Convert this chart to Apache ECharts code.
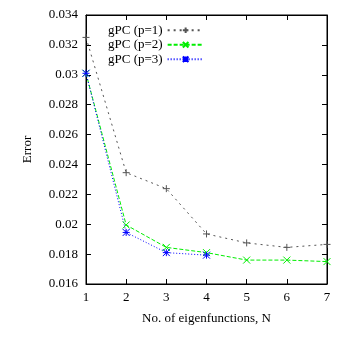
<!DOCTYPE html>
<html>
<head>
<meta charset="utf-8">
<script src="https://cdn.jsdelivr.net/npm/echarts@6/dist/echarts.min.js"></script>
<style>
  html, body {margin: 0; padding: 0; background: #fff;}
  #chart {width: 346px; height: 339px;}
</style>
</head>
<body>
<div id="chart"></div>
<script>
// number of eigenfunctions
const nValues = [1, 2, 3, 4, 5, 6, 7];
const errP1 = [0.0325, 0.02345, 0.02238, 0.01935, 0.01875, 0.01845, 0.01865];
const errP2 = [0.0301, 0.01995, 0.01845, 0.0181, 0.0176, 0.0176, 0.0175];
const errP3 = [0.0301, 0.01945, 0.0181, 0.01793];
const seriesNames = ['gPC (p=1)', 'gPC (p=2)', 'gPC (p=3)'];

const FONT = 'Liberation Serif';

// gnuplot-like point shapes
const plusPath = 'path://M0,5L10,5M5,0L5,10';
const crossPath = 'path://M0,0L10,10M10,0L0,10';
const starPath = 'path://M0,0L10,10M10,0L0,10M5,0L5,10M0,5L10,5';

const pairs = (ys) => ys.map((y, i) => [nValues[i], y]);

const mkSeries = (name, ys, color, dash, symbol) => ({
  name: name,
  type: 'line',
  data: pairs(ys),
  symbol: symbol,
  symbolSize: 7,
  showSymbol: true,
  lineStyle: {color: color, width: 1, type: dash},
  itemStyle: {color: 'rgba(0,0,0,0)', borderColor: color, borderWidth: 1},
  emphasis: {disabled: true},
  animation: false
});

const chart = echarts.init(document.getElementById('chart'));

const tickStyle = {show: true, inside: true, length: 5, lineStyle: {color: '#000'}};

chart.setOption({
  backgroundColor: '#fff',
  animation: false,
  grid: {left: 86, right: 19, top: 15, bottom: 55, show: true, borderColor: '#000', borderWidth: 1},
  legend: {
    left: 103,
    top: 18,
    orient: 'vertical',
    align: 'right',
    itemWidth: 36,
    itemHeight: 7,
    itemGap: 0,
    textStyle: {fontFamily: FONT, fontSize: 13, color: '#000', lineHeight: 14.5},
    data: seriesNames
  },
  xAxis: [{
    type: 'value',
    min: 1, max: 7, interval: 1,
    name: 'No. of eigenfunctions, N',
    nameLocation: 'middle',
    nameGap: 28,
    nameTextStyle: {fontFamily: FONT, fontSize: 13, color: '#000'},
    axisLine: {show: true, lineStyle: {color: '#000'}},
    axisTick: tickStyle,
    axisLabel: {fontFamily: FONT, fontSize: 13, color: '#000', margin: 7},
    splitLine: {show: false}
  }, {
    type: 'value',
    position: 'top',
    min: 1, max: 7, interval: 1,
    axisLine: {show: true, lineStyle: {color: '#000'}},
    axisTick: tickStyle,
    axisLabel: {show: false},
    splitLine: {show: false}
  }],
  yAxis: [{
    type: 'value',
    min: 0.016, max: 0.034, interval: 0.002,
    name: 'Error',
    nameLocation: 'middle',
    nameGap: 52,
    nameTextStyle: {fontFamily: FONT, fontSize: 13, color: '#000'},
    axisLine: {show: true, lineStyle: {color: '#000'}},
    axisTick: tickStyle,
    axisLabel: {fontFamily: FONT, fontSize: 13, color: '#000', margin: 8},
    splitLine: {show: false}
  }, {
    type: 'value',
    position: 'right',
    min: 0.016, max: 0.034, interval: 0.002,
    axisLine: {show: true, lineStyle: {color: '#000'}},
    axisTick: tickStyle,
    axisLabel: {show: false},
    splitLine: {show: false}
  }],
  series: [
    mkSeries(seriesNames[0], errP1, '#555555', [2, 4], plusPath),
    mkSeries(seriesNames[1], errP2, '#00ee00', [4, 2], crossPath),
    mkSeries(seriesNames[2], errP3, '#0000ff', [1, 2], starPath)
  ]
});
</script>
</body>
</html>
